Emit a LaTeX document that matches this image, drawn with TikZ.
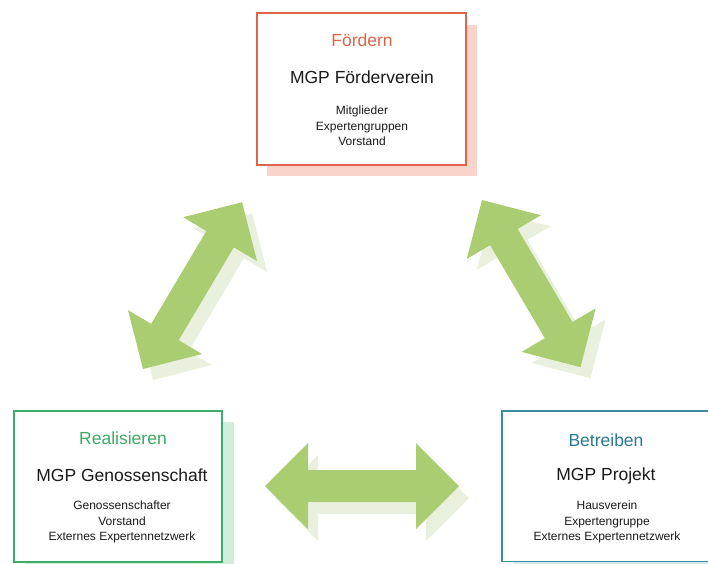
\documentclass[tikz,border=0pt]{standalone}
\usepackage{fontspec}
\setmainfont{Liberation Sans}
\definecolor{orangeB}{HTML}{E06548}
\definecolor{orangeS}{HTML}{F9D4CA}
\definecolor{greenB}{HTML}{3DAD6C}
\definecolor{greenT}{HTML}{3DAA62}
\definecolor{greenS}{HTML}{D2EDDC}
\definecolor{tealB}{HTML}{3A8CA0}
\definecolor{tealT}{HTML}{2B7A92}
\definecolor{tealS}{HTML}{D4E9EF}
\definecolor{arrowG}{HTML}{A9CD70}
\definecolor{arrowS}{HTML}{E9F1DE}
\definecolor{txt}{HTML}{1A1A1A}
\tikzset{
  dblarrow/.pic={\fill[#1] (0,0) -- (43,43) -- (43,16) -- (151,16) -- (151,43) -- (194,0)
     -- (151,-43) -- (151,-16) -- (43,-16) -- (43,-43) -- cycle;},
  boxline/.style={line width=1.5pt, fill=white},
  title/.style={font=\fontsize{17.5}{20}\selectfont, anchor=center},
  head/.style={font=\fontsize{17.5}{20}\selectfont, text=txt, anchor=center},
  items/.style={font=\fontsize{12}{15.5}\selectfont, text=txt, align=center, anchor=center},
}
\begin{document}
\begin{tikzpicture}[x=1pt,y=1pt]
\useasboundingbox (0,0) rectangle (708,-563);
\clip (0,0) rectangle (708,-563);
% box shadows
\fill[orangeS] (267,-25) rectangle (477,-176);
\fill[greenS] (25,-422) rectangle (234,-580);
\fill[tealS] (513,-422) rectangle (730,-580);
% boxes
\draw[boxline, draw=orangeB] (257,-13) rectangle (466,-165);
\draw[boxline, draw=greenB] (14,-411) rectangle (222,-562);
\draw[boxline, draw=tealB] (502,-411) rectangle (720,-561.5);
% top box text
\node[title, text=orangeB] (t1) at (362,-40) {Fördern};
\node[head] (h1) at (362,-77) {MGP Förderverein};
\node[items] (l1) at (362,-126) {Mitglieder\\Expertengruppen\\Vorstand};
% left box text
\node[title, text=greenT] (t2) at (123,-438) {Realisieren};
\node[head] (h2) at (122,-475) {MGP Genossenschaft};
\node[items] (l2) at (122,-522) {Genossenschafter\\Vorstand\\Externes Expertennetzwerk};
% right box text
\node[title, text=tealT] (t3) at (606,-440) {Betreiben};
\node[head] (h3) at (606,-476) {MGP Projekt};
\node[items] (l3) at (607,-522) {Hausverein\\Expertengruppe\\Externes Expertennetzwerk};
% arrow shadows
\pic[rotate=59.3] at (153,-380) {dblarrow=arrowS};
\pic[rotate=-59.5] at (492,-211) {dblarrow=arrowS};
\pic at (275,-498) {dblarrow=arrowS};
% arrows
\pic[rotate=59.3] (a1) at (143,-369) {dblarrow=arrowG};
\pic[rotate=-59.5] (a2) at (482,-200) {dblarrow=arrowG};
\pic (a3) at (265,-486) {dblarrow=arrowG};
\end{tikzpicture}
\end{document}
